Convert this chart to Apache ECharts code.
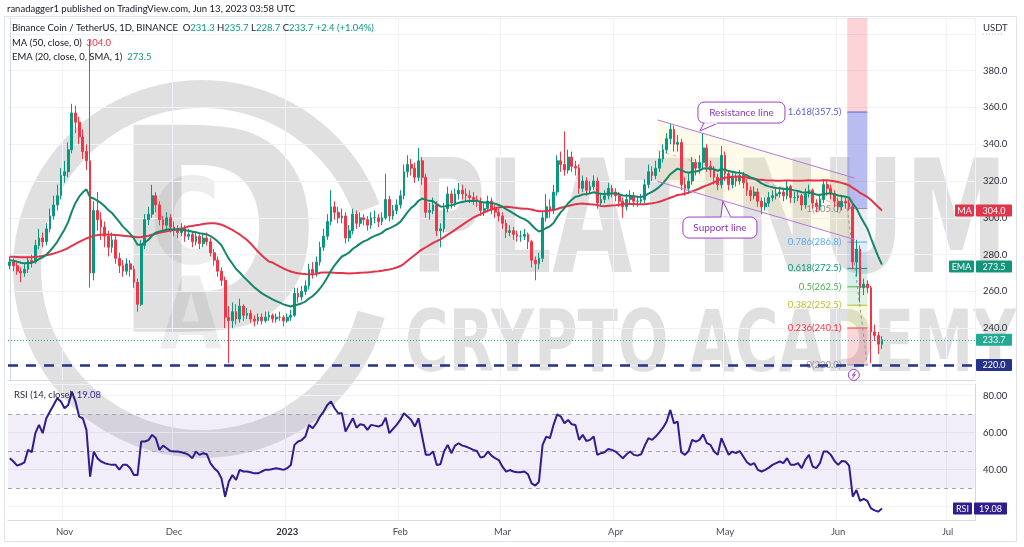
<!DOCTYPE html>
<html><head><meta charset="utf-8"><title>Binance Coin / TetherUS 1D</title>
<script src="https://cdn.jsdelivr.net/npm/echarts@6/dist/echarts.min.js"></script>
<style>html,body{margin:0;padding:0;background:#fff;}#chart{width:1024px;height:547px;}</style>
</head><body><div id="chart"></div>
<script>
// ---------------- DATA ----------------
const firstDate = '2022-10-17';
const totalSlots = 265;            // daily slots shown on the time axis (to early July 2023)
const firstOpen = 274;
const closes = [
276,274,271,270,272,277,276,285,289,287,
294,301,307,312,323,325,337,357,352,344,
336,331,270,304,299,295,290,284,288,278,
274,271,275,272,265,253,285,299,302,312,
307,299,296,300,295,293,292,294,290,291,
287,290,286,289,287,281,277,271,266,246,
244,249,245,252,247,248,245,244,246,244,
246,247,245,246,246,244,246,247,259,257,
260,263,272,270,276,284,290,298,306,303,
300,301,289,293,302,297,300,299,296,300,
300,298,300,310,301,304,307,312,325,329,
327,322,331,322,303,304,307,293,294,305,
313,308,313,315,313,312,311,310,309,304,
305,309,305,303,301,297,292,293,291,290,
290,291,287,277,275,278,300,306,304,314,
331,329,326,333,328,327,316,320,315,317,
320,308,310,312,316,314,312,309,306,310,
312,309,309,310,318,325,323,327,332,337,
343,348,340,341,318,316,320,330,327,330,
338,328,326,322,318,334,324,318,322,320,
323,319,315,312,314,309,306,308,311,312,
313,314,312,317,311,311,312,307,313,315,
308,306,310,318,316,313,309,306,309,308,
306,276,283,262,264,262,238,236,231.3,233.7];
const highs = [
279,278,276,273,275,279,280,288,294,292,
297,305,312,318,327,331,341,362,361,355,
348,340,397,309,314,303,298,293,292,290,
281,277,278,277,274,267,288,302,306,318,
314,309,301,303,302,298,296,297,296,294,
293,292,291,291,292,289,283,279,273,268,
252,254,253,256,253,251,250,247,248,248,
249,249,248,248,249,247,248,250,262,262,
263,266,275,276,279,287,294,302,315,309,
306,305,303,296,305,304,303,302,301,303,
304,302,303,324,312,307,310,315,329,334,
332,330,338,333,324,308,311,309,297,308,
317,315,316,319,318,316,315,314,312,311,
308,312,311,307,305,303,299,296,295,293,
293,294,292,288,279,281,303,313,310,318,
334,336,347,337,336,331,329,323,322,320,
323,322,313,315,319,318,316,314,311,313,
315,314,312,313,321,329,328,331,336,340,
346,351,350,345,343,322,324,333,332,334,
346,340,331,328,324,339,336,326,325,324,
326,325,321,317,317,316,311,311,314,315,
316,317,316,320,318,314,315,313,316,318,
316,310,313,321,320,318,315,311,312,311,
310,307,288,285,267,266,263,242,238,235.7];
const lows = [
272,271,269,265,268,270,273,275,283,284,
285,292,299,304,310,319,322,335,346,340,
332,326,262,266,293,288,284,279,281,275,
270,268,269,268,262,249,252,283,296,300,
303,296,292,294,292,290,289,290,287,288,
284,285,283,284,285,279,274,268,263,240,
221,240,242,243,244,245,243,241,242,242,
243,244,243,243,244,241,243,244,246,254,
255,258,261,267,268,274,282,288,296,299,
297,297,286,287,291,294,295,296,293,294,
297,295,296,299,298,299,302,305,310,322,
323,319,320,318,300,299,302,290,284,292,
303,305,306,310,310,309,308,307,306,301,
301,303,302,300,298,294,289,290,288,287,
287,288,283,273,266,272,276,298,300,302,
312,325,323,324,325,323,313,314,312,313,
315,305,306,308,310,311,309,306,300,304,
308,306,306,307,308,316,320,321,325,330,
335,340,336,336,315,312,313,318,323,324,
327,325,322,318,315,316,320,315,316,317,
318,316,312,309,310,306,302,304,306,309,
310,311,309,310,308,308,309,304,305,311,
305,303,304,308,312,310,306,303,304,305,
304,272,268,254,258,259,221,233,226,228.7];
// MA(50) values for days whose 50-day window starts before the first visible candle
const ma50Early = [
278.9,278.8,278.7,278.6,278.5,278.5,278.6,278.8,279.0,279.3,
279.7,280.1,280.6,281.2,281.9,282.7,283.6,284.7,285.8,286.9,
287.9,288.8,289.6,290.2,290.6,290.8,290.9,290.9,290.8,290.7,
290.5,290.3,290.1,289.9,289.7,289.5,289.6,289.9,290.3,290.8,
291.3,291.8,292.3,292.7,293.1,293.5,293.9,294.2,294.5];
const ema20Start = 277;           // EMA(20) at the first visible candle (read)
const rsi14 = [
46.2,44.4,42.2,42.9,44.0,50.7,49.4,59.7,64.2,59.7,
67.8,71.4,75.0,78.6,76.8,73.2,75.0,82.2,76.8,68.7,
67.8,61.5,36.2,49.8,46.2,44.4,43.5,43.0,42.6,42.6,
40.0,42.6,42.6,40.8,37.1,37.1,55.2,55.2,56.0,58.8,
57.0,50.7,53.0,51.6,50.1,49.8,49.8,49.4,48.9,48.0,
46.2,49.8,48.0,48.9,48.3,43.4,40.8,39.0,35.3,25.4,
33.5,37.1,34.4,39.9,39.0,39.0,38.6,38.0,38.0,39.0,
39.9,39.9,40.4,40.8,40.4,39.9,40.8,42.5,53.4,55.2,
56.0,57.9,64.2,62.4,65.1,68.7,71.4,75.0,76.8,73.2,
70.5,70.5,60.6,64.2,67.8,62.7,64.5,64.2,61.5,64.2,
63.8,63.3,64.2,68.1,59.7,62.0,64.2,66.9,70.5,68.7,
66.9,63.3,67.8,57.9,48.0,48.0,49.8,42.5,42.9,49.8,
53.4,48.9,53.0,54.3,53.0,52.5,51.6,50.7,50.1,46.5,
47.1,49.8,47.6,46.2,45.2,41.6,38.9,39.8,39.0,38.6,
38.6,39.0,37.5,32.6,31.4,33.5,53.4,57.9,57.0,64.2,
69.9,68.7,65.1,66.9,64.5,64.2,56.1,58.8,55.5,56.1,
57.9,48.0,48.9,49.4,51.2,50.7,49.8,48.0,46.2,48.3,
49.8,48.0,47.6,48.3,53.0,57.0,56.1,57.9,60.2,62.7,
66.0,72.3,65.1,66.0,49.4,48.0,50.1,56.1,55.2,56.1,
59.1,54.3,53.4,49.8,48.0,57.0,52.5,48.0,49.8,48.9,
50.1,47.1,44.0,42.6,43.5,39.9,39.0,39.9,41.1,42.6,
43.5,44.4,43.5,46.2,42.6,42.6,43.5,40.8,45.3,48.0,
41.7,40.8,43.5,49.8,49.8,48.0,44.7,42.6,44.7,44.4,
42.2,25.4,29.0,23.1,24.2,23.1,19.1,18.0,17.3,19.08];
const legendMA = 304.0, legendEMA = 273.5, legendRSI = 19.08;
const supportPrice = 220.0;
// Fibonacci retracement tool (ratios and prices as labelled)
const fibRatios = [1.618, 1, 0.786, 0.618, 0.5, 0.382, 0.236, 0];
const fibPrices = [357.5, 305.0, 286.8, 272.5, 262.5, 252.5, 240.1, 220.0];
const fibSpan = [229.5, 235.0];           // day-slot range of the tool
// descending channel drawing: [day slot, price]
const resistanceLine = [[177.5, 353.2], [231.5, 321.6]];
const supportLine = [[177.5, 319.8], [231.5, 288.2]];
const resistanceNote = {text: 'Resistance line', at: [200.5, 357.2], tip: [189.1, 347.2]};
const supportNote = {text: 'Support line', at: [194.6, 294.7], tip: [195.4, 309.0]};
const priceAxisRange = [211.85, 408.6];
const rsiAxisRange = [12.8, 86.3];
const rsiBands = [70, 50, 30];

// ---------------- STYLE ----------------
const FONT = 'Lato, "Open Sans", "DejaVu Sans", sans-serif';
const UP = '#089981', DOWN = '#f23645';
const MA_C = '#e2344a', EMA_C = '#14876a', RSI_C = '#2f1c8e', NAVY = '#25318b', PURPLE = '#9c3fc4';
const fibLineColors = ['#5b5fd0', '#8a8d96', '#5aaaf0', '#089981', '#4caf50', '#b9bf2e', '#f23645', '#8a8d96'];
const fibFillColors = ['rgba(98,106,222,0.45)', 'rgba(120,123,160,0.14)', 'rgba(100,181,246,0.22)', 'rgba(8,153,129,0.16)', 'rgba(76,175,80,0.16)', 'rgba(205,220,57,0.18)', 'rgba(242,54,69,0.20)'];

// ---------------- BUILD ----------------
const dates = [];
(function () {
  const p = firstDate.split('-').map(Number);
  for (let k = 0; k < totalSlots; k++) {
    dates.push(new Date(Date.UTC(p[0], p[1] - 1, p[2] + k)).toISOString().slice(0, 10));
  }
})();
const opens = closes.map((c, i) => i === 0 ? firstOpen : closes[i - 1]);
const candleData = closes.map((c, i) => [opens[i], c, lows[i], highs[i]]);
const ma50 = closes.map((c, i) => {
  if (i < ma50Early.length) return ma50Early[i];
  let s = 0; for (let k = i - 49; k <= i; k++) s += closes[k];
  return +(s / 50).toFixed(2);
});
const ema20 = [];
closes.forEach((c, i) => { ema20.push(i === 0 ? ema20Start : +(ema20[i - 1] + (2 / 21) * (c - ema20[i - 1])).toFixed(3)); });

const MONTHS = ['Jan','Feb','Mar','Apr','May','Jun','Jul','Aug','Sep','Oct','Nov','Dec'];
const isMonthStart = (idx, val) => String(val).slice(8) === '01';
const monthLabel = (val) => {
  const m = +val.slice(5, 7);
  return m === 1 ? '{y|' + val.slice(0, 4) + '}' : MONTHS[m - 1];
};

const chart = echarts.init(document.getElementById('chart'), null, {renderer: 'canvas'});
const gridLine = {color: '#f0f2f7', width: 1};
const option = {
  animation: false,
  backgroundColor: '#ffffff',
  textStyle: {fontFamily: FONT},
  tooltip: {show: false},
  grid: [
    {left: 8, right: 49, top: 18, height: 362, outerBoundsMode: 'none', containLabel: false},
    {left: 8, right: 49, top: 384, height: 136, outerBoundsMode: 'none', containLabel: false}
  ],
  xAxis: [
    {type: 'category', gridIndex: 0, data: dates, boundaryGap: true,
     axisLine: {show: true, lineStyle: {color: '#d6d9e0'}}, axisTick: {show: false}, axisLabel: {show: false},
     splitLine: {show: true, interval: isMonthStart, lineStyle: gridLine}},
    {type: 'category', gridIndex: 1, data: dates, boundaryGap: true,
     axisLine: {show: true, lineStyle: {color: '#d6d9e0'}}, axisTick: {show: false},
     axisLabel: {interval: isMonthStart, formatter: monthLabel, color: '#4a4e59', fontSize: 9.5, margin: 7,
                 rich: {y: {fontWeight: 'bold', fontSize: 9.5, color: '#2a2e39'}}},
     splitLine: {show: true, interval: isMonthStart, lineStyle: gridLine}},
    {type: 'value', gridIndex: 0, min: -0.5, max: totalSlots - 0.5, show: false}
  ],
  yAxis: [
    {type: 'value', gridIndex: 0, position: 'right', min: priceAxisRange[0], max: priceAxisRange[1], splitNumber: 10,
     axisLine: {show: true, lineStyle: {color: '#d6d9e0'}}, axisTick: {show: false},
     axisLabel: {color: '#2a2e39', fontSize: 9.5, margin: 8, showMinLabel: false, showMaxLabel: false,
                 formatter: v => (v > 390 ? '' : v.toFixed(1))},
     splitLine: {show: true, lineStyle: gridLine}},
    {type: 'value', gridIndex: 1, position: 'right', min: rsiAxisRange[0], max: rsiAxisRange[1], splitNumber: 4,
     axisLine: {show: true, lineStyle: {color: '#d6d9e0'}}, axisTick: {show: false},
     axisLabel: {color: '#2a2e39', fontSize: 9.5, margin: 8, showMinLabel: false, showMaxLabel: false,
                 formatter: v => (v < 30 ? '' : v.toFixed(2))},
     splitLine: {show: true, lineStyle: gridLine}}
  ],
  series: [
    {name: 'BNBUSDT', type: 'candlestick', xAxisIndex: 0, yAxisIndex: 0, data: candleData, barWidth: '62%', z: 4,
     itemStyle: {color: UP, color0: DOWN, borderColor: UP, borderColor0: DOWN, borderWidth: 1},
     markLine: {symbol: 'none', silent: true, label: {show: false},
       data: [
         {yAxis: supportPrice, lineStyle: {color: NAVY, width: 2.5, type: [10, 8]}},
         {yAxis: closes[closes.length - 1], lineStyle: {color: '#26a69a', width: 1, type: [1, 2]}}
       ]}},
    {name: 'MA 50', type: 'line', xAxisIndex: 0, yAxisIndex: 0, data: ma50, symbol: 'none', z: 5, silent: true,
     lineStyle: {color: MA_C, width: 2}},
    {name: 'EMA 20', type: 'line', xAxisIndex: 0, yAxisIndex: 0, data: ema20, symbol: 'none', z: 6, silent: true,
     lineStyle: {color: EMA_C, width: 2}},
    {name: 'RSI 14', type: 'line', xAxisIndex: 1, yAxisIndex: 1, data: rsi14, symbol: 'none', z: 5, silent: true,
     lineStyle: {color: RSI_C, width: 2},
     markArea: {silent: true, itemStyle: {color: 'rgba(126,87,194,0.10)'}, data: [[{yAxis: rsiBands[0]}, {yAxis: rsiBands[2]}]]},
     markLine: {symbol: 'none', silent: true, label: {show: false},
       lineStyle: {color: '#a3a6af', width: 1, type: [4, 4]},
       data: rsiBands.map(v => ({yAxis: v}))}}
  ]
};
chart.setOption(option);

// ---------------- ANNOTATIONS (positioned through the chart's own scales) ----------------
const X = v => chart.convertToPixel({xAxisIndex: 2}, v);
const Y = v => chart.convertToPixel({yAxisIndex: 0}, v);
const YR = v => chart.convertToPixel({yAxisIndex: 1}, v);
const P = (pt) => [X(pt[0]), Y(pt[1])];
const els = [];
const WM = 'rgba(0,0,0,0.12)';
const WM2 = 'rgba(0,0,0,0.07)';
// watermark
els.push({type: 'arc', z: -5, silent: true, shape: {cx: 202, cy: 269, r: 175, startAngle: 15 * Math.PI / 180, endAngle: 340 * Math.PI / 180, clockwise: true},
          style: {stroke: WM, lineWidth: 28, fill: null}});
els.push({type: 'text', z: -5, silent: true, x: 110, y: 258, scaleX: 0.9,
          style: {text: 'D', fontSize: 284, fontWeight: 'bold', fontFamily: 'DejaVu Sans', fill: WM, align: 'left', verticalAlign: 'middle'}});
els.push({type: 'text', z: -5, silent: true, x: 150, y: 232, scaleX: 0.8,
          style: {text: 'C', fontSize: 120, fontWeight: 'bold', fontFamily: 'DejaVu Sans', fill: WM2, align: 'left', verticalAlign: 'middle'}});
els.push({type: 'text', z: -5, silent: true, x: 160, y: 322, scaleX: 0.8,
          style: {text: 'A', fontSize: 100, fontWeight: 'bold', fontFamily: 'DejaVu Sans', fill: WM2, align: 'left', verticalAlign: 'middle'}});
els.push({type: 'text', z: -5, silent: true, x: 410, y: 231, scaleX: 0.665,
          style: {text: 'PLATINUM', fontSize: 156, fontWeight: 'bold', fontFamily: 'DejaVu Sans', fill: WM, align: 'left', verticalAlign: 'middle'}});
els.push({type: 'text', z: -5, silent: true, x: 405, y: 349, scaleX: 0.69,
          style: {text: 'CRYPTO ACADEMY', fontSize: 86, fontWeight: 'bold', fontFamily: 'DejaVu Sans', fill: WM, align: 'left', verticalAlign: 'middle'}});

// outer frame + publish line
els.push({type: 'rect', z: 30, silent: true, shape: {x: 4.5, y: 16.5, width: 1012, height: 525}, style: {fill: null, stroke: '#e0e3eb', lineWidth: 1}});
els.push({type: 'text', z: 30, x: 7, y: 8.5, style: {text: 'ranadagger1 published on TradingView.com, Jun 13, 2023 03:58 UTC', fontSize: 9.5, fontFamily: FONT, fill: '#131722', align: 'left', verticalAlign: 'middle'}});

// channel
const rt0 = P(resistanceLine[0]), rt1 = P(resistanceLine[1]), sb0 = P(supportLine[0]), sb1 = P(supportLine[1]);
els.push({type: 'polygon', z: 1, silent: true, shape: {points: [rt0, rt1, sb1, sb0]}, style: {fill: 'rgba(255,230,110,0.14)'}});
const mid0 = [(rt0[0] + sb0[0]) / 2, (rt0[1] + sb0[1]) / 2], mid1 = [(rt1[0] + sb1[0]) / 2, (rt1[1] + sb1[1]) / 2];
els.push({type: 'line', z: 3, silent: true, shape: {x1: mid0[0], y1: mid0[1], x2: mid1[0], y2: mid1[1]}, style: {stroke: 'rgba(156,63,196,0.35)', lineWidth: 1, lineDash: [4, 4]}});
els.push({type: 'line', z: 7, silent: true, shape: {x1: rt0[0], y1: rt0[1], x2: rt1[0], y2: rt1[1]}, style: {stroke: '#b27ad6', lineWidth: 1}});
els.push({type: 'line', z: 7, silent: true, shape: {x1: sb0[0], y1: sb0[1], x2: sb1[0], y2: sb1[1]}, style: {stroke: '#b27ad6', lineWidth: 1}});

// fib tool
const fx0 = X(fibSpan[0]), fx1 = X(fibSpan[1]);
els.push({type: 'rect', z: 1, silent: true, shape: {x: fx0, y: Y(priceAxisRange[1]), width: fx1 - fx0, height: Y(fibPrices[0]) - Y(priceAxisRange[1])}, style: {fill: 'rgba(242,54,69,0.22)'}});
for (let k = 0; k < fibPrices.length - 1; k++) {
  const yt = Y(fibPrices[k]), yb = Y(fibPrices[k + 1]);
  els.push({type: 'rect', z: 1, silent: true, shape: {x: fx0, y: yt, width: fx1 - fx0, height: yb - yt}, style: {fill: fibFillColors[k]}});
}
fibPrices.forEach((p, k) => {
  const y = Y(p);
  els.push({type: 'line', z: 3, silent: true, shape: {x1: fx0, y1: y, x2: fx1, y2: y}, style: {stroke: fibLineColors[k], lineWidth: 1}});
  els.push({type: 'text', z: 3, silent: true, x: fx0 - 6, y: y, style: {text: fibRatios[k] + '(' + p.toFixed(1) + ')', fontSize: 9.5, fontFamily: FONT, fill: fibLineColors[k], align: 'right', verticalAlign: 'middle'}});
});
els.push({type: 'line', z: 3, silent: true, shape: {x1: fx0, y1: Y(fibPrices[1]), x2: fx1, y2: Y(fibPrices[fibPrices.length - 1])}, style: {stroke: '#9598a1', lineWidth: 1, lineDash: [3, 3]}});

// callouts
function callout(note, w, h, wedge) {
  const c = P(note.at), t = P(note.tip);
  const bx = c[0] - w / 2, by = c[1] - h / 2;
  let base;
  if (wedge === 'down') base = [[bx + 6, by + h], [bx + 20, by + h]];
  else base = [[t[0] - 2, by], [t[0] + 8, by]];
  els.push({type: 'polygon', z: 12, silent: true, shape: {points: [base[0], t, base[1]]}, style: {fill: '#fff', stroke: PURPLE, lineWidth: 1}});
  els.push({type: 'rect', z: 13, silent: true, shape: {x: bx, y: by, width: w, height: h, r: 6}, style: {fill: '#fff', stroke: PURPLE, lineWidth: 1}});
  els.push({type: 'line', z: 14, silent: true, shape: {x1: base[0][0] + 0.5, y1: base[0][1], x2: base[1][0] - 0.5, y2: base[1][1]}, style: {stroke: '#fff', lineWidth: 1.5}});
  els.push({type: 'text', z: 15, silent: true, x: c[0], y: c[1], style: {text: note.text, fontSize: 10, fontFamily: FONT, fill: '#8e35b8', align: 'center', verticalAlign: 'middle'}});
}
callout(resistanceNote, 87, 21, 'down');
callout(supportNote, 74, 21, 'up');

// lightning marker under the last candles
const lp = [X(231.3), Y(214.6)];
els.push({type: 'circle', z: 15, silent: true, shape: {cx: lp[0], cy: lp[1], r: 5.5}, style: {fill: '#fff', stroke: PURPLE, lineWidth: 1}});
els.push({type: 'polyline', z: 16, silent: true, shape: {points: [[lp[0] + 1.5, lp[1] - 3.5], [lp[0] - 1.5, lp[1] + 0.5], [lp[0] + 1.5, lp[1] - 0.5], [lp[0] - 1.5, lp[1] + 3.5]]}, style: {stroke: PURPLE, lineWidth: 1, fill: null}});

// price-axis tags
function tag(x, w, yc, text, bg) {
  els.push({type: 'rect', z: 20, silent: true, shape: {x: x, y: yc - 6, width: w, height: 12, r: 1}, style: {fill: bg}});
  els.push({type: 'text', z: 21, silent: true, x: x + w / 2, y: yc + 0.5, style: {text: text, fontSize: 9, fontFamily: FONT, fill: '#fff', align: 'center', verticalAlign: 'middle'}});
}
const lastClose = closes[closes.length - 1];
tag(955, 19, Y(legendMA), 'MA', MA_C);
tag(976, 36, Y(legendMA), legendMA.toFixed(1), MA_C);
tag(949, 25, Y(legendEMA), 'EMA', '#14957a');
tag(976, 36, Y(legendEMA), legendEMA.toFixed(1), '#14957a');
tag(976, 36, Y(lastClose), lastClose.toFixed(1), '#22ab94');
tag(976, 36, Y(supportPrice), supportPrice.toFixed(1), NAVY);
tag(953, 19, YR(legendRSI), 'RSI', RSI_C);
tag(974, 33, YR(legendRSI), legendRSI.toFixed(2), RSI_C);
els.push({type: 'text', z: 21, silent: true, x: 983, y: 28, style: {text: 'USDT', fontSize: 9.5, fontFamily: FONT, fill: '#2a2e39', align: 'left', verticalAlign: 'middle'}});
els.push({type: 'line', z: 21, silent: true, shape: {x1: 983, y1: 34, x2: 1002, y2: 34}, style: {stroke: '#b2b5be', lineWidth: 1, lineDash: [1, 2]}});

// legends
const n = closes.length - 1;
const chg = closes[n] - closes[n - 1];
const pct = chg / closes[n - 1] * 100;
const sgn = v => (v >= 0 ? '+' : '');
const G = '#089981';
els.push({type: 'text', z: 22, silent: true, x: 12, y: 28, style: {
  text: '{t|Binance Coin / TetherUS, 1D, BINANCE}  {t|O}{v|' + opens[n].toFixed(1) + '} {t|H}{v|' + highs[n].toFixed(1) + '} {t|L}{v|' + lows[n].toFixed(1) + '} {t|C}{v|' + closes[n].toFixed(1) + '} {v|' + sgn(chg) + chg.toFixed(1) + ' (' + sgn(pct) + pct.toFixed(2) + '%)}',
  fontSize: 9.5, fontFamily: FONT, align: 'left', verticalAlign: 'middle',
  rich: {t: {fontSize: 9.5, fontFamily: FONT, fill: '#131722'}, v: {fontSize: 9.5, fontFamily: FONT, fill: G}}}});
els.push({type: 'text', z: 22, silent: true, x: 12, y: 43, style: {
  text: '{t|MA (50, close, 0)}  {v|' + legendMA.toFixed(1) + '}', fontSize: 9.5, fontFamily: FONT, align: 'left', verticalAlign: 'middle',
  rich: {t: {fontSize: 9.5, fontFamily: FONT, fill: '#131722'}, v: {fontSize: 9.5, fontFamily: FONT, fill: MA_C}}}});
els.push({type: 'text', z: 22, silent: true, x: 12, y: 57, style: {
  text: '{t|EMA (20, close, 0, SMA, 1)}  {v|' + legendEMA.toFixed(1) + '}', fontSize: 9.5, fontFamily: FONT, align: 'left', verticalAlign: 'middle',
  rich: {t: {fontSize: 9.5, fontFamily: FONT, fill: '#131722'}, v: {fontSize: 9.5, fontFamily: FONT, fill: '#14957a'}}}});
els.push({type: 'text', z: 22, silent: true, x: 14, y: 395, style: {
  text: '{t|RSI (14, close)}  {v|' + legendRSI.toFixed(2) + '}', fontSize: 9.5, fontFamily: FONT, align: 'left', verticalAlign: 'middle',
  rich: {t: {fontSize: 9.5, fontFamily: FONT, fill: '#2a2e39'}, v: {fontSize: 9.5, fontFamily: FONT, fill: RSI_C}}}});

chart.setOption({graphic: {elements: els}});
</script></body></html>
